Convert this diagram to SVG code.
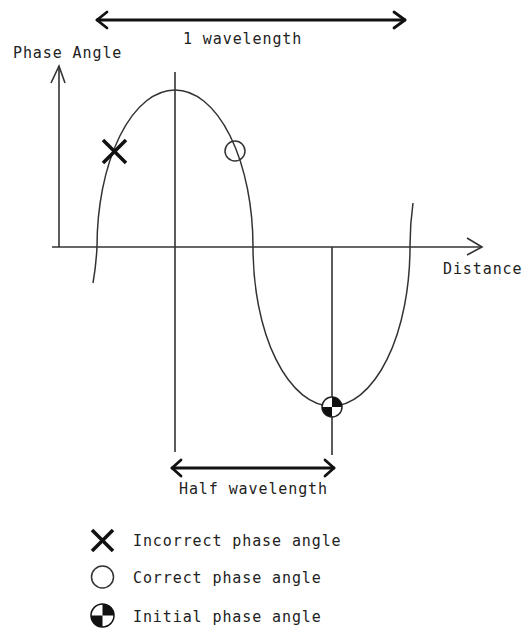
<svg xmlns="http://www.w3.org/2000/svg" width="522" height="630" viewBox="0 0 522 630">
<style>
.t{font-family:"DejaVu Sans Mono","Liberation Mono",monospace;font-size:15px;letter-spacing:0.9px;fill:#222}
.ln{stroke:#333;stroke-width:1.6;fill:none}
.arr{stroke:#111;stroke-width:2.8;fill:none;stroke-linecap:round;stroke-linejoin:round}
.crv{stroke:#333;stroke-width:1.5;fill:none}
.x{stroke:#111;stroke-width:3.5;stroke-linecap:butt}
</style>
<rect width="522" height="630" fill="#fff"/>
<g id="connectors">
  <line class="ln" x1="59" y1="66" x2="59" y2="247"/>
  <polyline class="ln" points="51,83 59,66 65,83"/>
  <line class="ln" x1="52" y1="247" x2="482" y2="247"/>
  <polyline class="ln" points="467,238 482,247 467,255"/>
  <line class="ln" x1="175" y1="72" x2="175" y2="452"/>
  <line class="ln" x1="332" y1="247" x2="332" y2="455"/>
  <line class="arr" x1="97" y1="20" x2="405" y2="20"/>
  <polyline class="arr" points="107,12 97,20 107,28"/>
  <polyline class="arr" points="394,12 405,20 394,28"/>
  <line class="arr" x1="172" y1="468" x2="334" y2="468"/>
  <polyline class="arr" points="181,460 172,468 181,476"/>
  <polyline class="arr" points="325,460 334,468 325,476"/>
</g>
<g id="wave">
  <path class="crv" d="M 93 283 A 78.5 157 0 0 0 97 247 A 78 157 0 0 1 253 247 A 78.5 159 0 0 0 410 247 A 78 157 0 0 1 413 203"/>
</g>
<g id="marker-incorrect">
  <line class="x" x1="103" y1="140" x2="126" y2="163"/>
  <line class="x" x1="126" y1="140" x2="103" y2="163"/>
</g>
<g id="marker-correct">
  <circle cx="235" cy="151" r="10" fill="none" stroke="#333" stroke-width="1.5"/>
</g>
<g id="marker-initial">
  <circle cx="332" cy="407" r="10" fill="#fff" stroke="#222" stroke-width="1.5"/>
  <path d="M332 407 L332 397 A10 10 0 0 1 342 407 Z" fill="#111"/>
  <path d="M332 407 L332 417 A10 10 0 0 1 322 407 Z" fill="#111"/>
</g>
<g id="labels">
  <text class="t" x="183" y="44">1 wavelength</text>
  <text class="t" x="13" y="58">Phase Angle</text>
  <text class="t" x="443" y="274">Distance</text>
  <text class="t" x="179" y="494">Half wavelength</text>
</g>
<g id="legend">
  <g id="legend-incorrect">
    <line class="x" x1="92" y1="530" x2="113" y2="551"/>
    <line class="x" x1="113" y1="530" x2="92" y2="551"/>
    <text class="t" x="133" y="546">Incorrect phase angle</text>
  </g>
  <g id="legend-correct">
    <circle cx="102.5" cy="577" r="11" fill="none" stroke="#333" stroke-width="1.5"/>
    <text class="t" x="133" y="583">Correct phase angle</text>
  </g>
  <g id="legend-initial">
    <circle cx="102.5" cy="615.5" r="11.5" fill="#fff" stroke="#111" stroke-width="1.5"/>
    <path d="M102.5 615.5 L102.5 604 A11.5 11.5 0 0 1 114 615.5 Z" fill="#111"/>
    <path d="M102.5 615.5 L102.5 627 A11.5 11.5 0 0 1 91 615.5 Z" fill="#111"/>
    <text class="t" x="133" y="622">Initial phase angle</text>
  </g>
</g>
</svg>
